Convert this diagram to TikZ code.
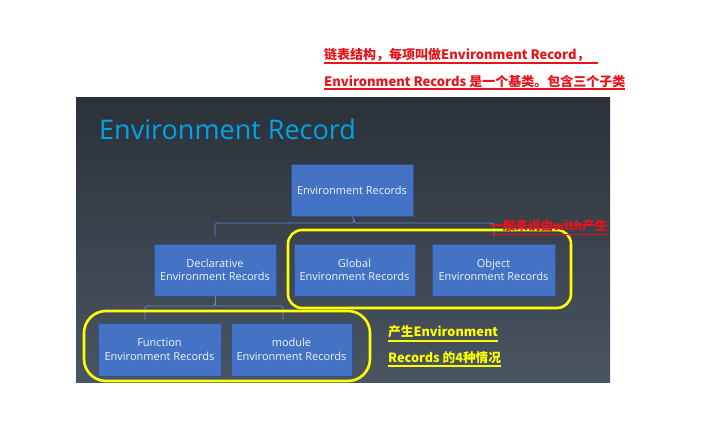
\documentclass[tikz,border=0pt]{standalone}
\usepackage{fontspec}
\setmainfont{Open Sans}
\newfontfamily\cjk{Noto Sans CJK SC}
\definecolor{slidetop}{HTML}{2B3139}
\definecolor{slidebot}{HTML}{4A5562}
\definecolor{boxfill}{HTML}{4472C4}
\definecolor{boxline}{HTML}{2F528F}
\definecolor{titlecol}{HTML}{00A3E6}
\definecolor{annred}{HTML}{E8141C}
\definecolor{annyel}{HTML}{FFFF00}
\begin{document}
\begin{tikzpicture}[x=1pt,y=-1pt,
  rec/.style={draw=boxline, line width=0.8pt, fill=boxfill, minimum height=52pt,
    text=white!92!boxfill, font=\fontsize{11}{13.3}\selectfont, align=center, inner sep=0pt},
  link/.style={draw=boxfill!85!white, line width=0.8pt, rounded corners=2.5pt},
  ring/.style={draw=annyel, line width=2.6pt},
  redtxt/.style={text=annred, font=\cjk\bfseries\fontsize{13}{13}\selectfont, anchor=west, inner sep=0pt},
  yeltxt/.style={text=annyel, font=\cjk\bfseries\fontsize{12.7}{12.7}\selectfont, anchor=west, inner sep=0pt},
  redline/.style={draw=annred, line width=1.2pt},
  yelline/.style={draw=annyel, line width=1.2pt}]
\useasboundingbox (0,0) rectangle (716,432);
\fill[white] (0,0) rectangle (716,432);
\shade[top color=slidetop, bottom color=slidebot] (76,97) rectangle (610,382);

\node[anchor=base west, text=titlecol, font=\fontsize{27}{27}\selectfont, inner sep=0pt] (ttl) at (99,139) {Environment Record};

\node[rec, minimum width=122pt] (root) at (352,190.5) {Environment Records};
\node[rec, minimum width=122pt] (decl) at (215,270) {Declarative\\Environment Records};
\node[rec, minimum width=121pt] (glob) at (354.5,270) {Global\\Environment Records};
\node[rec, minimum width=123pt] (obj) at (493.5,270) {Object\\Environment Records};
\node[rec, minimum width=123pt, minimum height=53pt] (func) at (159.5,349.5) {Function\\Environment Records};
\node[rec, minimum width=121pt, minimum height=53pt] (mod) at (291.5,349.5) {module\\Environment Records};

% first bracket
\coordinate (t1l) at (215,236);
\coordinate (t1r) at (494,236);
\coordinate (h1) at (354,219.5);
\draw[link] (root.south) -- (h1);
\draw[link] (t1l) |- (350.5,223) to[out=0,in=-90] (h1);
\draw[link] (t1r) |- (357.5,223) to[out=180,in=-90] (h1);
% second bracket
\coordinate (t2l) at (145,320);
\coordinate (t2r) at (283,320);
\coordinate (h2) at (215,302.5);
\draw[link] (decl.south) -- (h2);
\draw[link] (t2l) |- (211.5,306) to[out=0,in=-90] (h2);
\draw[link] (t2r) |- (218.5,306) to[out=180,in=-90] (h2);

% yellow rings
\draw[ring, rounded corners=14pt] (288,230) rectangle (571,308);
\draw[ring, rounded corners=22pt] (84,311) rectangle (370,381);

% red annotations
\node[redtxt] (a1) at (324,55) {链表结构，每项叫做Environment Record，};
\draw[redline] ([yshift=-8pt]a1.west) -- ([yshift=-8pt,xshift=8pt]a1.east);
\node[redtxt] (a2) at (324,82) {Environment Records 是一个基类。包含三个子类};
\draw[redline] ([yshift=-7pt]a2.west) -- ([yshift=-7pt]a2.east);

\node[redtxt, font=\cjk\bfseries\fontsize{12.6}{12.6}\selectfont] (a3) at (490,226) {一般来说由with产生};
\draw[redline, line width=0.9pt] ([yshift=1pt]a3.west) -- ([yshift=1pt]a3.east);
\draw[redline, line width=0.9pt] ([yshift=-8pt]a3.west) -- ([yshift=-8pt]a3.east);

% yellow annotations
\node[yeltxt] (y1) at (388,332) {产生Environment};
\draw[yelline] ([yshift=-9pt]y1.west) -- ([yshift=-9pt]y1.east);
\node[yeltxt] (y2) at (388,358) {Records 的4种情况};
\draw[yelline] ([yshift=-8pt]y2.west) -- ([yshift=-8pt]y2.east);
\end{tikzpicture}
\end{document}
